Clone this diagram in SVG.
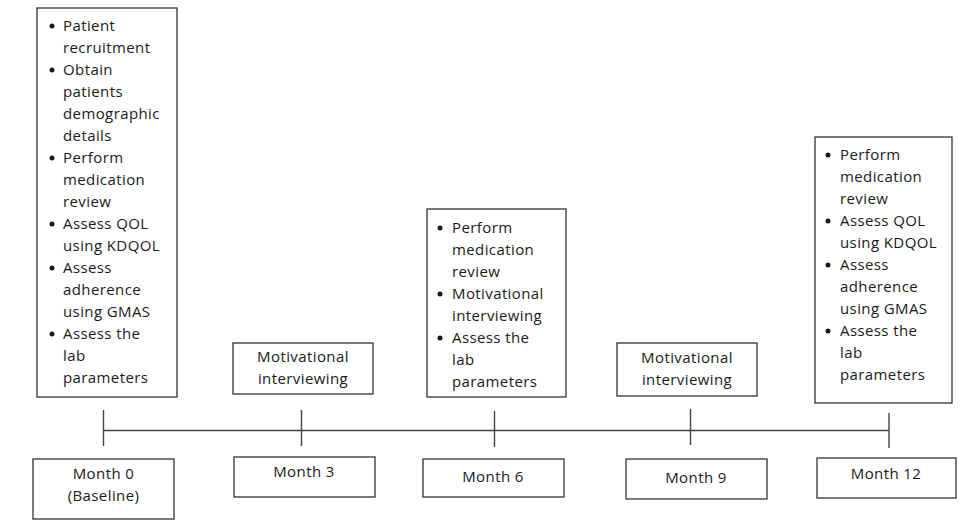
<svg xmlns="http://www.w3.org/2000/svg" width="966" height="529" viewBox="0 0 966 529">
<style>
.box{fill:#fff;stroke:#333;stroke-width:1.3}
.t{font-family:"Open Sans","Liberation Sans",sans-serif;font-size:15px;letter-spacing:0.4px;fill:#1a1a1a}
.c{text-anchor:middle}
.b{fill:#1a1a1a}
.ln{stroke:#444;stroke-width:1.4;fill:none}
</style>
<rect width="966" height="529" fill="#fff"/>
<g id="connectors">
<line class="ln" x1="103.5" y1="430.5" x2="889" y2="430.5"/>
<line class="ln" x1="103.5" y1="410" x2="103.5" y2="446"/>
<line class="ln" x1="301.5" y1="410" x2="301.5" y2="446"/>
<line class="ln" x1="494.5" y1="411" x2="494.5" y2="447"/>
<line class="ln" x1="690.5" y1="409" x2="690.5" y2="445"/>
<line class="ln" x1="889" y1="413" x2="889" y2="448"/>
</g>
<g id="top0">
<rect class="box" x="37" y="8" width="140" height="389"/>
<g class="b"><circle cx="52" cy="26" r="2.5"/><circle cx="52" cy="70" r="2.5"/><circle cx="52" cy="158" r="2.5"/><circle cx="52" cy="224" r="2.5"/><circle cx="52" cy="268" r="2.5"/><circle cx="52" cy="334" r="2.5"/></g>
<text class="t" x="63" y="31">Patient</text>
<text class="t" x="63" y="53">recruitment</text>
<text class="t" x="63" y="75">Obtain</text>
<text class="t" x="63" y="97">patients</text>
<text class="t" x="63" y="119">demographic</text>
<text class="t" x="63" y="141">details</text>
<text class="t" x="63" y="163">Perform</text>
<text class="t" x="63" y="185">medication</text>
<text class="t" x="63" y="207">review</text>
<text class="t" x="63" y="229">Assess QOL</text>
<text class="t" x="63" y="251">using KDQOL</text>
<text class="t" x="63" y="273">Assess</text>
<text class="t" x="63" y="295">adherence</text>
<text class="t" x="63" y="317">using GMAS</text>
<text class="t" x="63" y="339">Assess the</text>
<text class="t" x="63" y="361">lab</text>
<text class="t" x="63" y="383">parameters</text>
</g>
<g id="top3">
<rect class="box" x="233" y="343" width="140" height="51"/>
<text class="t c" x="303" y="362">Motivational</text>
<text class="t c" x="303" y="384">interviewing</text>
</g>
<g id="top6">
<rect class="box" x="427" y="209" width="139" height="188"/>
<g class="b"><circle cx="440" cy="228" r="2.5"/><circle cx="440" cy="294" r="2.5"/><circle cx="440" cy="338" r="2.5"/></g>
<text class="t" x="452" y="233">Perform</text>
<text class="t" x="452" y="255">medication</text>
<text class="t" x="452" y="277">review</text>
<text class="t" x="452" y="299">Motivational</text>
<text class="t" x="452" y="321">interviewing</text>
<text class="t" x="452" y="343">Assess the</text>
<text class="t" x="452" y="365">lab</text>
<text class="t" x="452" y="387">parameters</text>
</g>
<g id="top9">
<rect class="box" x="617" y="343" width="140" height="53"/>
<text class="t c" x="687" y="363">Motivational</text>
<text class="t c" x="687" y="385">interviewing</text>
</g>
<g id="top12">
<rect class="box" x="815" y="137" width="137" height="266"/>
<g class="b"><circle cx="828" cy="155" r="2.5"/><circle cx="828" cy="221" r="2.5"/><circle cx="828" cy="265" r="2.5"/><circle cx="828" cy="331" r="2.5"/></g>
<text class="t" x="840" y="160">Perform</text>
<text class="t" x="840" y="182">medication</text>
<text class="t" x="840" y="204">review</text>
<text class="t" x="840" y="226">Assess QOL</text>
<text class="t" x="840" y="248">using KDQOL</text>
<text class="t" x="840" y="270">Assess</text>
<text class="t" x="840" y="292">adherence</text>
<text class="t" x="840" y="314">using GMAS</text>
<text class="t" x="840" y="336">Assess the</text>
<text class="t" x="840" y="358">lab</text>
<text class="t" x="840" y="380">parameters</text>
</g>
<g id="m0">
<rect class="box" x="33" y="459" width="141" height="60"/>
<text class="t c" x="103.5" y="479">Month 0</text>
<text class="t c" x="103.5" y="501">(Baseline)</text>
</g>
<g id="m3">
<rect class="box" x="234" y="457" width="141" height="40"/>
<text class="t c" x="304" y="477">Month 3</text>
</g>
<g id="m6">
<rect class="box" x="423" y="459" width="141" height="38"/>
<text class="t c" x="493" y="482">Month 6</text>
</g>
<g id="m9">
<rect class="box" x="626" y="459" width="141" height="40"/>
<text class="t c" x="696" y="483">Month 9</text>
</g>
<g id="m12">
<rect class="box" x="817" y="458" width="139" height="40"/>
<text class="t c" x="886" y="479">Month 12</text>
</g>
</svg>
